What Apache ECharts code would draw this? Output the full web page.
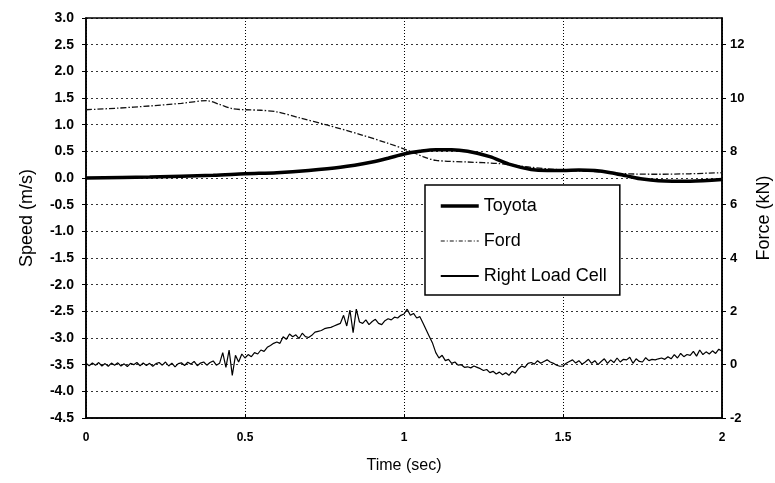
<!DOCTYPE html>
<html>
<head>
<meta charset="utf-8">
<script src="https://cdn.jsdelivr.net/npm/echarts@6/dist/echarts.min.js"></script>
<style>html,body{margin:0;padding:0;background:#fff}#c{width:775px;height:483px}</style>
</head>
<body>
<div id="c"></div>
<script>
// Speed (m/s) series
const toyotaTime  = [0,0.2,0.4,0.5,0.6,0.7,0.8,0.9,0.95,1.0,1.05,1.1,1.15,1.2,1.27,1.33,1.4,1.45,1.5,1.55,1.6,1.65,1.7,1.75,1.8,1.9,2.0];
const toyotaSpeed = [0.0,0.02,0.05,0.08,0.1,0.14,0.2,0.3,0.37,0.45,0.5,0.53,0.53,0.5,0.4,0.26,0.16,0.14,0.14,0.15,0.14,0.1,0.04,-0.02,-0.05,-0.06,-0.03];
const fordTime  = [0,0.1,0.2,0.3,0.38,0.42,0.46,0.5,0.55,0.6,0.67,0.76,0.86,0.95,1.02,1.06,1.1,1.2,1.3,1.4,1.5,1.6,1.7,1.8,1.9,2.0];
const fordSpeed = [1.28,1.31,1.35,1.4,1.45,1.38,1.3,1.28,1.27,1.24,1.13,0.99,0.82,0.65,0.5,0.4,0.33,0.3,0.27,0.2,0.15,0.12,0.08,0.07,0.08,0.1];
// Right load cell force (kN), sampled every 0.01 s from 0 to 2 s
const rlcStart = 0, rlcStep = 0.01;
const rlcForce = [
 0.05,-0.04,0.06,-0.02,0.08,-0.05,0.04,-0.06,0.06,-0.02,
 0.07,-0.05,0.03,-0.07,0.05,0.00,0.08,-0.04,0.06,-0.03,
 0.05,-0.06,0.04,0.08,-0.02,0.10,-0.05,0.06,-0.08,0.04,
 0.07,-0.03,0.09,0.02,0.12,-0.04,0.06,0.10,-0.02,0.08,
 0.14,-0.02,0.05,0.45,-0.10,0.55,-0.40,0.35,0.10,0.40,
 0.25,0.38,0.30,0.45,0.40,0.55,0.50,0.65,0.72,0.80,
 0.85,0.80,1.05,0.95,1.15,1.05,1.12,0.98,1.18,1.05,
 1.02,1.10,1.22,1.25,1.28,1.35,1.38,1.40,1.45,1.50,
 1.55,1.85,1.45,2.05,1.20,2.08,1.60,1.55,1.68,1.50,
 1.62,1.70,1.55,1.50,1.65,1.72,1.68,1.78,1.75,1.85,
 1.90,2.08,1.85,1.92,1.75,1.80,1.55,1.30,1.05,0.80,
 0.45,0.25,0.35,0.15,0.20,0.05,0.10,-0.02,0.00,-0.10,
 -0.08,-0.12,-0.05,-0.10,-0.15,-0.22,-0.18,-0.30,-0.25,-0.35,
 -0.28,-0.38,-0.30,-0.40,-0.25,-0.32,-0.15,-0.05,-0.10,0.05,
 0.08,0.02,0.15,0.05,0.12,0.18,0.10,0.05,-0.02,-0.06,
 -0.05,0.05,0.12,0.18,0.06,0.15,0.02,0.10,0.20,0.05,
 0.15,0.00,0.12,0.22,0.05,0.18,0.08,0.25,0.10,0.20,
 0.18,0.28,0.05,0.22,0.12,0.10,0.26,0.15,0.20,0.18,
 0.22,0.25,0.20,0.30,0.22,0.38,0.25,0.42,0.30,0.38,
 0.35,0.50,0.32,0.55,0.38,0.48,0.40,0.52,0.42,0.58,
 0.50
];
const seriesNames = ['Toyota','Ford','Right Load Cell'];

const pair = (ts, vs) => ts.map((t, i) => [t, vs[i]]);
const rlcData = rlcForce.map((v, i) => [+(rlcStart + i * rlcStep).toFixed(2), v]);

const font = 'Liberation Sans, Arial, sans-serif';
const chart = echarts.init(document.getElementById('c'), null, {renderer: 'canvas'});
chart.setOption({
  backgroundColor: '#fff',
  animation: false,
  grid: {left: 86, right: 53, top: 18, bottom: 65, show: true, borderColor: '#000', borderWidth: 1.5, backgroundColor: 'transparent', outerBoundsMode: 'none', containLabel: false},
  legend: {
    data: [
      {name: seriesNames[0], lineStyle: {width: 3.5, color: '#000'}},
      {name: seriesNames[1], lineStyle: {width: 1.2, color: '#111', type: [4, 2, 1, 2]}},
      {name: seriesNames[2], lineStyle: {width: 2, color: '#000'}}
    ],
    orient: 'vertical',
    left: 425, top: 185,
    padding: [12, 13, 10, 14],
    itemGap: 17, itemWidth: 38, itemHeight: 14,
    itemStyle: {opacity: 0},
    backgroundColor: '#fff', borderColor: '#000', borderWidth: 1.5,
    textStyle: {fontFamily: font, fontSize: 18, color: '#000'}
  },
  xAxis: {
    type: 'value', min: 0, max: 2, interval: 0.5,
    name: 'Time (sec)', nameLocation: 'middle', nameGap: 40,
    nameTextStyle: {fontFamily: font, fontSize: 16, color: '#000'},
    axisLine: {onZero: false, lineStyle: {color: '#000', width: 1.5}},
    axisTick: {show: true, inside: true, length: 4, lineStyle: {color: '#000'}},
    axisLabel: {fontFamily: font, fontSize: 12, fontWeight: 'bold', color: '#000', margin: 14},
    splitLine: {show: true, lineStyle: {color: '#000', type: [1, 2], width: 1}}
  },
  yAxis: [{
    type: 'value', min: -4.5, max: 3, interval: 0.5,
    name: 'Speed (m/s)', nameLocation: 'middle', nameGap: 50,
    nameTextStyle: {fontFamily: font, fontSize: 18, color: '#000'},
    axisLine: {show: true, onZero: false, lineStyle: {color: '#000', width: 1.5}},
    axisTick: {show: true, length: 4, lineStyle: {color: '#000'}},
    axisLabel: {fontFamily: font, fontSize: 14, fontWeight: 'bold', color: '#000', margin: 12, formatter: v => v.toFixed(1)},
    splitLine: {show: true, lineStyle: {color: '#000', type: [2, 3], width: 0.8}}
  }, {
    type: 'value', min: -2, max: 13, interval: 2, position: 'right',
    name: 'Force (kN)', nameLocation: 'middle', nameGap: 28, nameRotate: 90,
    nameTextStyle: {fontFamily: font, fontSize: 18, color: '#000'},
    axisLine: {show: true, onZero: false, lineStyle: {color: '#000', width: 1.5}},
    axisTick: {show: true, length: 4, lineStyle: {color: '#000'}},
    axisLabel: {fontFamily: font, fontSize: 13, fontWeight: 'bold', color: '#000', margin: 8, showMaxLabel: false},
    splitLine: {show: false}
  }],
  series: [{
    name: seriesNames[0], type: 'line', yAxisIndex: 0, data: pair(toyotaTime, toyotaSpeed),
    showSymbol: false, symbol: 'none', smooth: 0.3,
    lineStyle: {color: '#000', width: 3.5}, itemStyle: {color: '#000'}, z: 4
  }, {
    name: seriesNames[1], type: 'line', yAxisIndex: 0, data: pair(fordTime, fordSpeed),
    showSymbol: false, symbol: 'none', smooth: 0.3,
    lineStyle: {color: '#111', width: 1.3, type: [6, 2, 1.5, 2]}, itemStyle: {color: '#111'}, z: 3
  }, {
    name: seriesNames[2], type: 'line', yAxisIndex: 1, data: rlcData,
    showSymbol: false, symbol: 'none',
    lineStyle: {color: '#000', width: 1.2}, itemStyle: {color: '#000'}, z: 3
  }]
});
</script>
</body>
</html>
